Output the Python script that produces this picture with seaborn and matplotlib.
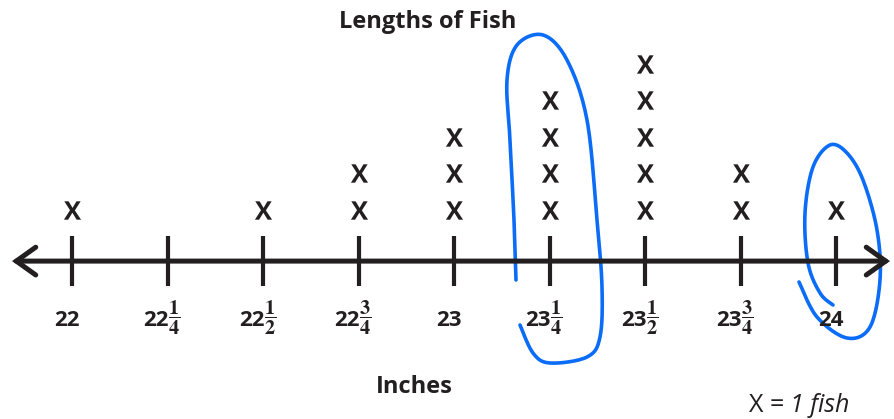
import matplotlib.pyplot as plt
import seaborn as sns
import numpy as np
import pandas as pd
from matplotlib.textpath import TextPath
from matplotlib.font_manager import FontProperties
from matplotlib.path import Path
from matplotlib.transforms import Affine2D

# line plot data: fish lengths (inches) and how many fish had each length
lengths = [22, 22.25, 22.5, 22.75, 23, 23.25, 23.5, 23.75, 24]
counts = [1, 0, 1, 2, 3, 4, 5, 2, 1]
whole_parts = ["22", "22", "22", "22", "23", "23", "23", "23", "24"]
frac_parts = ["", "1/4", "1/2", "3/4", "", "1/4", "1/2", "3/4", ""]
title = "Lengths of Fish"
xlabel = "Inches"

INK = "#231f20"
BLUE = "#0b6cf7"
FONT = "Open Sans"


def smooth(pts, n=16):
    # catmull-rom through the hand traced points
    pts = np.asarray(pts, dtype=float)
    p = np.vstack([pts[0], pts, pts[-1]])
    out = []
    for i in range(1, len(p) - 2):
        p0, p1, p2, p3 = p[i - 1], p[i], p[i + 1], p[i + 2]
        for t in np.linspace(0, 1, n, endpoint=False):
            out.append(0.5 * ((2 * p1) + (-p0 + p2) * t
                              + (2 * p0 - 5 * p1 + 4 * p2 - p3) * t ** 2
                              + (-p0 + 3 * p1 - 3 * p2 + p3) * t ** 3))
    out.append(pts[-1])
    return np.array(out)


def main():
    sns.set_style("white")
    plt.rcParams["mathtext.fontset"] = "stix"
    plt.rcParams["font.family"] = [FONT, "DejaVu Sans"]

    rows = []
    for length, c in zip(lengths, counts):
        for level in range(1, c + 1):
            rows.append({"length": length, "level": level})
    df = pd.DataFrame(rows)

    fig = plt.figure(figsize=(8.94, 4.19), dpi=100)
    ax = fig.add_axes([0, 0, 1, 1])
    ax.set_xlim(21.8115, 24.1518)
    ax.set_ylim(-4.726, 6.753)
    ax.axis("off")

    # X glyph as marker
    tp = TextPath((0, 0), "X", prop=FontProperties(family=FONT, weight="bold"))
    v = tp.vertices
    v = v - (v.min(axis=0) + v.max(axis=0)) / 2
    xmark = Path(v, tp.codes)

    sns.scatterplot(data=df, x="length", y="level", marker=xmark, s=175,
                    color=INK, linewidth=0, ax=ax, legend=False)

    axis_y = -0.4
    ax.annotate("", xy=(21.8115 + 12 / 382, axis_y), xytext=(21.8115 + 890 / 382, axis_y),
                arrowprops=dict(arrowstyle="<->,head_length=0.7,head_width=0.5",
                                lw=3.6, color=INK, mutation_scale=20,
                                shrinkA=0, shrinkB=0, capstyle="round",
                                joinstyle="miter"))
    ax.vlines(lengths, axis_y - 0.69, axis_y + 0.69, color=INK, lw=3)

    for x, whole, frac in zip(lengths, whole_parts, frac_parts):
        if frac == "":
            ax.annotate(whole, (x, -2.18), xytext=(-4, 0), textcoords="offset points",
                        ha="center", va="baseline", fontsize=16, fontweight="bold",
                        color=INK)
        else:
            num, den = frac.split("/")
            ax.annotate(whole, (x, -2.18), xytext=(1, 0), textcoords="offset points",
                        ha="right", va="baseline", fontsize=16, fontweight="bold",
                        color=INK)
            ax.annotate(r"$\dfrac{\mathbf{%s}}{\mathbf{%s}}$" % (num, den), (x, -2.18),
                        xytext=(0.5, 6), textcoords="offset points",
                        ha="left", va="center", fontsize=14.5, color=INK)

    pix = Affine2D().scale(1 / 894, -1 / 419).translate(0, 1) + fig.transFigure
    fig.text(428, 28, title, transform=pix, ha="center", va="baseline",
             fontsize=17, fontweight="bold", color=INK)
    fig.text(414, 393, xlabel, transform=pix, ha="center", va="baseline",
             fontsize=17, fontweight="bold", color=INK)
    fig.text(784, 412, "X =", transform=pix, ha="right", va="baseline",
             fontsize=18, color=INK)
    fig.text(790, 412, "1 fish", transform=pix, ha="left", va="baseline",
             fontsize=18, style="italic", color=INK)

    # hand drawn blue loops (annotation, traced in pixels)
    loop1 = [(516, 280), (514, 220), (510, 140), (507, 80), (517, 45), (543, 35),
             (567, 60), (587, 120), (597, 220), (602, 287), (600, 337),
             (587, 357), (550, 363), (533, 353), (520, 325)]
    loop2 = [(799, 282), (817, 317), (847, 338), (870, 327), (880, 280),
             (877, 230), (863, 180), (847, 153), (830, 145), (813, 167),
             (805, 213), (808, 263), (820, 293), (833, 305)]
    for loop in (loop1, loop2):
        c = smooth(loop)
        ax.plot(c[:, 0], c[:, 1], transform=pix, color=BLUE, lw=2.6,
                solid_capstyle="round", solid_joinstyle="round")

    fig.savefig("out.png", dpi=100)


main()
